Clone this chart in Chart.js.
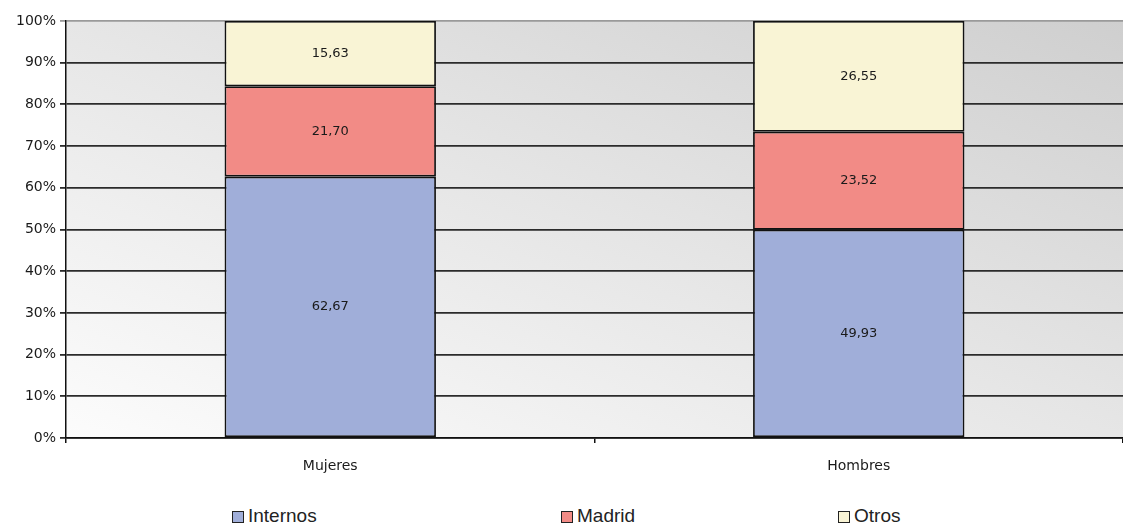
<!DOCTYPE html>
<html>
<head>
<meta charset="utf-8">
<script src="https://cdn.jsdelivr.net/npm/chart.js@4"></script>
<style>
  html, body { margin: 0; padding: 0; background: #fff; }
  #wrap { position: relative; width: 1123px; height: 526px; }
  #wrap canvas { position: absolute; left: 0; top: 0; }
  .leg { position: absolute; top: 506px; font-family: "Liberation Sans", Arial, sans-serif; font-size: 19px; line-height: 20px; color: #222; display: flex; align-items: center; white-space: nowrap; }
  .leg span.box { display: inline-block; width: 10px; height: 10px; border: 1px solid #222; margin-right: 4px; margin-top: 2px; }
</style>
</head>
<body>
<div id="wrap">
  <canvas id="chart" width="1123" height="492"></canvas>
  <div id="legend"></div>
</div>
<script>
// data
const categories = ["Mujeres", "Hombres"];
const internos = [62.67, 49.93];
const madrid = [21.70, 23.52];
const otros = [15.63, 26.55];
const seriesNames = ["Internos", "Madrid", "Otros"];
const seriesColors = ["#a0aed9", "#f28b86", "#f9f4d5"];
const legendLeft = [232, 561, 838];

const FONT = "'DejaVu Sans', Verdana, sans-serif";

// background gradient in plot area (bottom-left light -> top-right grey)
const bgPlugin = {
  id: "bg",
  beforeDraw(chart) {
    const { ctx, chartArea: a } = chart;
    const w = a.right - a.left, h = a.bottom - a.top;
    const s = 2 / (1 / (w * w) + 1 / (h * h));
    const g = ctx.createLinearGradient(a.left, a.bottom, a.left + s / w, a.bottom - s / h);
    g.addColorStop(0, "#fcfcfc");
    g.addColorStop(0.5, "#e6e6e6");
    g.addColorStop(1, "#cfcfcf");
    ctx.save();
    ctx.fillStyle = g;
    ctx.fillRect(a.left, a.top, w, h);
    ctx.restore();
  }
};

// values drawn in the middle of each segment
const labelPlugin = {
  id: "vals",
  afterDatasetsDraw(chart) {
    const ctx = chart.ctx;
    ctx.save();
    ctx.font = "13px " + FONT;
    ctx.fillStyle = "#1a1a1a";
    ctx.textAlign = "center";
    ctx.textBaseline = "middle";
    chart.data.datasets.forEach((ds, i) => {
      chart.getDatasetMeta(i).data.forEach((bar, j) => {
        const mid = (bar.y + bar.base) / 2;
        ctx.fillText(ds.data[j].toFixed(2).replace(".", ","), bar.x, mid);
      });
    });
    ctx.restore();
  }
};

const ctx = document.getElementById("chart").getContext("2d");
new Chart(ctx, {
  type: "bar",
  data: {
    labels: categories,
    datasets: [internos, madrid, otros].map((d, i) => ({
      label: seriesNames[i],
      data: d,
      backgroundColor: seriesColors[i],
      borderColor: "#111",
      borderWidth: 1.8,
      borderSkipped: false,
      categoryPercentage: 0.4,
      barPercentage: 1.0
    }))
  },
  options: {
    responsive: false,
    animation: false,
    layout: { padding: { top: 21, right: 0, left: 0, bottom: 0 } },
    plugins: { legend: { display: false }, tooltip: { enabled: false } },
    scales: {
      x: {
        stacked: true,
        grid: { offset: true, drawOnChartArea: false, color: "#111", tickLength: 5, lineWidth: 1.5 },
        border: { color: "#111", width: 1.5 },
        ticks: { color: "#1a1a1a", font: { size: 14, family: FONT }, padding: 15 },
        afterFit(scale) { scale.height = 54; }
      },
      y: {
        stacked: true,
        min: 0,
        max: 100,
        ticks: {
          stepSize: 10,
          color: "#1a1a1a",
          padding: 4,
          font: { size: 14, family: FONT },
          callback: (v) => v + "%"
        },
        grid: {
          color: (c) => (c.tick && c.tick.value === 100 ? "#9a9a9a" : "#2b2b2b"),
          lineWidth: 1.8,
          tickLength: 6
        },
        border: { color: "#111", width: 1.5 },
        afterFit(scale) { scale.width = 66; }
      }
    }
  },
  plugins: [bgPlugin, labelPlugin]
});

// legend
const legend = document.getElementById("legend");
seriesNames.forEach((name, i) => {
  const el = document.createElement("div");
  el.className = "leg";
  el.style.left = legendLeft[i] + "px";
  el.innerHTML = `<span class="box" style="background:${seriesColors[i]}"></span>${name}`;
  legend.appendChild(el);
});
</script>
</body>
</html>
